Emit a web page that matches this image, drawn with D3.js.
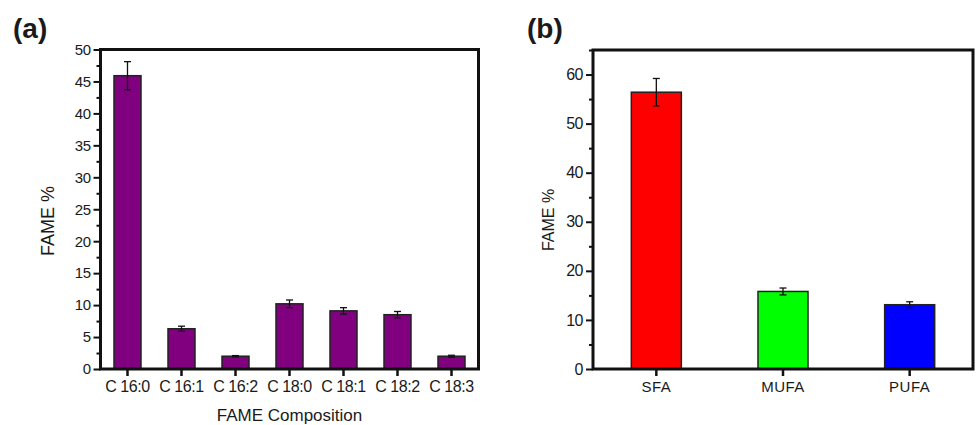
<!DOCTYPE html>
<html>
<head>
<meta charset="utf-8">
<script src="https://cdn.jsdelivr.net/npm/d3@7"></script>
<style>
  body { margin: 0; background: #fff; }
  svg text { font-family: "Liberation Sans", Arial, sans-serif; fill: #1a1a1a; }
</style>
</head>
<body>
<svg id="chart" width="976" height="425"></svg>
<script>
// panel (a): individual FAMEs
var fameNames = ['C 16:0', 'C 16:1', 'C 16:2', 'C 18:0', 'C 18:1', 'C 18:2', 'C 18:3'];
var fameValues = [45.9, 6.3, 2.0, 10.2, 9.1, 8.5, 2.0];
var fameErrors = [2.2, 0.4, 0.1, 0.6, 0.5, 0.5, 0.15];
var fameTicks = [0, 5, 10, 15, 20, 25, 30, 35, 40, 45, 50];

// panel (b): classes
var classNames = ['SFA', 'MUFA', 'PUFA'];
var classValues = [56.4, 15.8, 13.1];
var classErrors = [2.8, 0.7, 0.6];
var classColors = ['#ff0000', '#00ff00', '#0000ff'];
var classTicks = [0, 10, 20, 30, 40, 50, 60];

var svg = d3.select('#chart');

function drawPanel(p) {
  var g = svg.append('g');
  var x = d3.scaleBand().domain(p.names).range([p.left, p.right])
    .paddingInner(p.pad).paddingOuter(p.pad / 2);
  var y = d3.scaleLinear().domain(p.domain).range([p.bottom, p.top]);

  // bars
  g.selectAll('rect.bar')
    .data(p.values)
    .enter()
    .append('rect')
    .attr('class', 'bar')
    .attr('x', function (d, i) { return x(p.names[i]); })
    .attr('y', function (d) { return y(d); })
    .attr('width', x.bandwidth())
    .attr('height', function (d) { return y(0) - y(d); })
    .attr('fill', function (d, i) { return p.colors[i % p.colors.length]; })
    .attr('stroke', '#222')
    .attr('stroke-width', 1.5);

  // error bars
  p.values.forEach(function (v, i) {
    var cx = x(p.names[i]) + x.bandwidth() / 2;
    var e = p.errors[i];
    var eb = g.append('g').attr('stroke', '#111').attr('stroke-width', 1.3);
    eb.append('line').attr('x1', cx).attr('x2', cx).attr('y1', y(v + e)).attr('y2', y(v - e));
    eb.append('line').attr('x1', cx - 3.5).attr('x2', cx + 3.5).attr('y1', y(v + e)).attr('y2', y(v + e));
    eb.append('line').attr('x1', cx - 3.5).attr('x2', cx + 3.5).attr('y1', y(v - e)).attr('y2', y(v - e));
  });

  // minor y ticks
  var minor = [];
  for (var k = 0; k < p.ticks.length - 1; k++) minor.push((p.ticks[k] + p.ticks[k + 1]) / 2);
  if (p.ticks[p.ticks.length - 1] + p.step / 2 <= p.domain[1]) minor.push(p.ticks[p.ticks.length - 1] + p.step / 2);
  g.append('g')
    .attr('transform', 'translate(' + p.left + ',0)')
    .call(d3.axisLeft(y).tickValues(minor).tickSize(4).tickFormat(''))
    .call(function (a) { a.select('.domain').remove(); a.selectAll('line').attr('stroke', '#111').attr('stroke-width', 2); });

  // y axis
  g.append('g')
    .attr('transform', 'translate(' + p.left + ',0)')
    .call(d3.axisLeft(y).tickValues(p.ticks).tickSize(7).tickPadding(3))
    .call(function (a) {
      a.select('.domain').remove();
      a.selectAll('line').attr('stroke', '#111').attr('stroke-width', 2);
      a.selectAll('text')
        .style('font-size', p.tickFont + 'px')
        .style('letter-spacing', '-0.5px')
        .attr('fill', '#1a1a1a');
    });

  // x axis
  g.append('g')
    .attr('transform', 'translate(0,' + p.bottom + ')')
    .call(d3.axisBottom(x).tickSize(7).tickPadding(5))
    .call(function (a) {
      a.select('.domain').remove();
      a.selectAll('line').attr('stroke', '#111').attr('stroke-width', 2.5);
      a.selectAll('text')
        .style('font-size', p.xFont + 'px')
        .style('letter-spacing', p.xSpacing)
        .attr('fill', '#1a1a1a');
    });

  // frame
  g.append('rect')
    .attr('x', p.left)
    .attr('y', p.top)
    .attr('width', p.right - p.left)
    .attr('height', p.bottom - p.top)
    .attr('fill', 'none')
    .attr('stroke', '#111')
    .attr('stroke-width', 3);

  // y title
  g.append('text')
    .attr('transform', 'translate(' + p.yTitleX + ',' + p.yTitleY + ') rotate(-90)')
    .attr('text-anchor', 'middle')
    .style('font-size', p.yTitleFont + 'px')
    .text('FAME %');

  if (p.xTitle) {
    g.append('text')
      .attr('x', (p.left + p.right) / 2)
      .attr('y', 421)
      .attr('text-anchor', 'middle')
      .style('font-size', '17px')
      .text(p.xTitle);
  }

  // panel letter
  svg.append('text')
    .attr('x', p.letterX)
    .attr('y', 38)
    .style('font-size', '28px')
    .style('font-weight', 'bold')
    .attr('fill', '#111')
    .text(p.letter);
}

drawPanel({
  names: fameNames, values: fameValues, errors: fameErrors, colors: ['#800080'],
  ticks: fameTicks, step: 5, domain: [0, 50],
  left: 100.5, right: 478.5, top: 49.5, bottom: 369, pad: 0.5,
  tickFont: 15, xFont: 16, xSpacing: '-0.4px', yTitleX: 54, yTitleY: 221, yTitleFont: 18,
  xTitle: 'FAME Composition', letter: '(a)', letterX: 13
});

drawPanel({
  names: classNames, values: classValues, errors: classErrors, colors: classColors,
  ticks: classTicks, step: 10, domain: [0, 65],
  left: 593, right: 973, top: 50, bottom: 369, pad: 0.605,
  tickFont: 16, xFont: 15, xSpacing: '0.5px', yTitleX: 554, yTitleY: 220, yTitleFont: 16,
  xTitle: null, letter: '(b)', letterX: 527
});
</script>
</body>
</html>
